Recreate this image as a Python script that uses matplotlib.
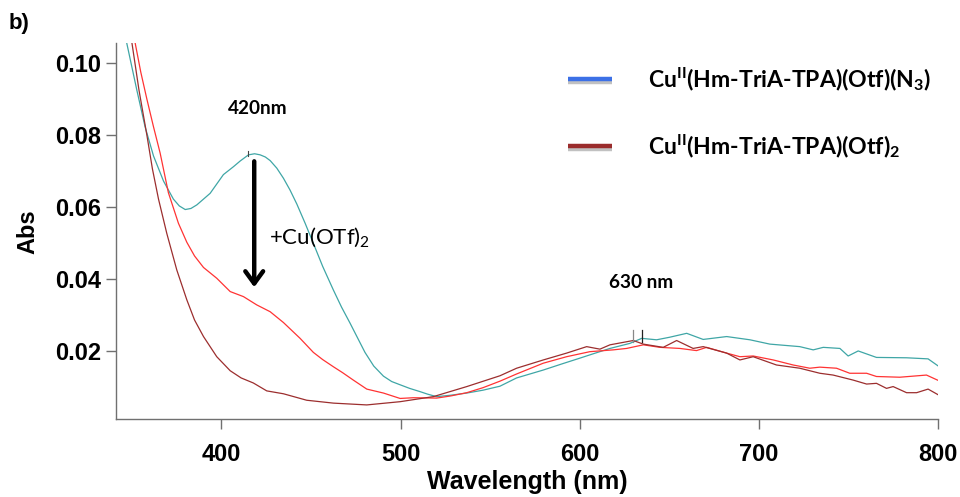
import matplotlib
matplotlib.use("Agg")
import matplotlib.pyplot as plt
from matplotlib.lines import Line2D
import matplotlib.patheffects as pe

plt.rcParams['font.family'] = ['Liberation Sans', 'DejaVu Sans']
plt.rcParams['mathtext.fontset'] = 'custom'
plt.rcParams['mathtext.rm'] = 'Lato'
plt.rcParams['mathtext.bf'] = 'Lato:bold'
plt.rcParams['mathtext.it'] = 'Lato:italic'

# Cu(II) azide complex (starting spectrum)
wl_azide = [344, 347.2, 352.8, 357.4, 362.1, 367.7, 373.2, 376.5, 379.8, 383, 386.3, 393.7,
            401.1, 406.7, 410.5, 415.1, 418.5, 421.6, 424.5, 427.2, 430.9, 434.6, 438.3,
            442.1, 446.7, 451.3, 456.5, 462.5, 467, 471.8, 476, 480.1, 485, 490.4, 495,
            499.7, 505, 510.8, 515, 520.1, 528, 536.9, 546, 555.4, 564.7, 579.6, 590, 600,
            608, 616.8, 627.9, 634.5, 642.8, 650, 659.6, 668.8, 681.9, 694.9, 706, 722.7,
            730.2, 735.8, 745.1, 749.7, 755.3, 765.5, 782.3, 794.3, 800]
abs_azide = [0.113, 0.1055, 0.0925, 0.0823, 0.0742, 0.0672, 0.0622, 0.0603, 0.0593, 0.0596,
             0.0606, 0.0638, 0.0690, 0.0712, 0.0728, 0.0745, 0.0748, 0.0745, 0.0739, 0.0729,
             0.0708, 0.0680, 0.0647, 0.0608, 0.0555, 0.0499, 0.0435, 0.0369, 0.0322, 0.0277,
             0.0236, 0.0196, 0.0158, 0.0130, 0.0115, 0.0106, 0.0096, 0.0087, 0.0080, 0.0073,
             0.0077, 0.0083, 0.0091, 0.0102, 0.0125, 0.0147, 0.0164, 0.0180, 0.0193, 0.0207,
             0.0221, 0.0235, 0.0231, 0.0238, 0.0249, 0.0232, 0.0240, 0.0231, 0.0219, 0.0212,
             0.0203, 0.0210, 0.0207, 0.0186, 0.0200, 0.0182, 0.0181, 0.0178, 0.0158]

# intermediate titration point
wl_mid = [349, 351.9, 355, 358.4, 362, 365.8, 370.4, 376, 380.7, 385, 390, 397.4, 404.9,
          412.3, 419.7, 427.2, 434.6, 443.9, 451.3, 456.5, 462.5, 467.5, 473.6, 481.1,
          490.4, 499.7, 507.1, 520.1, 528, 536.9, 546, 555.4, 564.7, 579.6, 592.6, 605.6,
          618.6, 626.1, 635.4, 644.7, 655.8, 665.1, 670.7, 681.9, 689.3, 696.7, 707.9, 719,
          728.3, 733.9, 743.2, 750.6, 760, 765.5, 778.5, 793.4, 800]
abs_mid = [0.112, 0.1055, 0.0975, 0.0900, 0.0825, 0.0750, 0.0640, 0.0555, 0.0502, 0.0464,
           0.0432, 0.0402, 0.0365, 0.0351, 0.0328, 0.0309, 0.0279, 0.0235, 0.0196, 0.0176,
           0.0156, 0.0140, 0.0119, 0.0094, 0.0083, 0.0068, 0.0070, 0.0069, 0.0075, 0.0084,
           0.0098, 0.0116, 0.0136, 0.0166, 0.0184, 0.0198, 0.0203, 0.0207, 0.0217, 0.0210,
           0.0207, 0.0201, 0.0210, 0.0194, 0.0184, 0.0186, 0.0175, 0.0161, 0.0152, 0.0155,
           0.0152, 0.0138, 0.0138, 0.0129, 0.0127, 0.0133, 0.0118]

# Cu(II) bis-triflate complex (end of titration)
wl_otf = [348, 350.1, 354, 358.4, 361.5, 364.9, 369.5, 375.1, 380.7, 385, 390, 397.4, 404.9,
          411, 417.8, 425.3, 434.6, 447.6, 462.5, 481.1, 499.7, 518.2, 536.9, 555.4, 564.7,
          579.6, 592.6, 603.8, 611.2, 616.8, 629.8, 635.4, 646.5, 654, 663.2, 668.8, 681.9,
          689.3, 696.7, 709.7, 722.7, 733.9, 741.3, 752.5, 760, 765.5, 771.1, 774.8, 782.3,
          787.9, 794.3, 800]
abs_otf = [0.112, 0.1055, 0.0925, 0.0800, 0.0706, 0.0622, 0.0527, 0.0425, 0.0342, 0.0286,
           0.0240, 0.0184, 0.0145, 0.0125, 0.0111, 0.0089, 0.0081, 0.0063, 0.0055, 0.0050,
           0.0059, 0.0073, 0.0101, 0.0131, 0.0152, 0.0175, 0.0194, 0.0212, 0.0205, 0.0217,
           0.0229, 0.0219, 0.0210, 0.0229, 0.0207, 0.0212, 0.0194, 0.0175, 0.0184, 0.0161,
           0.0152, 0.0138, 0.0133, 0.0119, 0.0108, 0.0110, 0.0096, 0.0101, 0.0084, 0.0084,
           0.0094, 0.0078]

x_ticks = [400, 500, 600, 700, 800]
y_ticks = [0.02, 0.04, 0.06, 0.08, 0.10]
y_ticklabels = ['0.02', '0.04', '0.06', '0.08', '0.10']

legend_labels = [r'Cu$^{\mathbf{II}}$(Hm-TriA-TPA)(Otf)(N$_{\mathbf{3}}$)',
                 r'Cu$^{\mathbf{II}}$(Hm-TriA-TPA)(Otf)$_{\mathbf{2}}$']
legend_colors = ['#3c70e6', '#9a2c2c']

# cursor positions read on the band maxima
cursor_420 = [415.1]
cursor_630 = [629.8, 634.8]

fig = plt.figure(figsize=(9.6, 4.97), dpi=100)
ax = fig.add_axes([0.1205, 0.1563, 0.8569, 0.7566])

ax.plot(wl_azide, abs_azide, color='#3fa6a6', lw=0.9)
ax.plot(wl_mid, abs_mid, color='#ff3333', lw=0.9)
ax.plot(wl_otf, abs_otf, color='#9c2e2e', lw=0.9)

ax.set_xlim(341, 800)
ax.set_ylim(0.001, 0.1055)

for s in ['top', 'right']:
    ax.spines[s].set_visible(False)
for s in ['left', 'bottom']:
    ax.spines[s].set_color('#707070')
    ax.spines[s].set_linewidth(1.0)

ax.set_xticks(x_ticks)
ax.set_xticklabels([str(v) for v in x_ticks])
ax.set_yticks(y_ticks)
ax.set_yticklabels(y_ticklabels)
ax.tick_params(axis='both', direction='out', length=7, width=1.0, color='#707070',
               labelsize=17)
ax.tick_params(axis='y', pad=3.5)
ax.tick_params(axis='x', pad=10)
for lab in ax.get_xticklabels() + ax.get_yticklabels():
    lab.set_fontweight('bold')

ax.set_xlabel('Wavelength (nm)', fontsize=18, fontweight='bold', labelpad=3)
ax.set_ylabel('Abs', fontsize=17, fontweight='bold', labelpad=11)

# cursor marks
for w in cursor_420:
    ax.plot([w, w], [0.0743, 0.0756], color='#444444', lw=0.8)
ax.plot([cursor_630[0]] * 2, [0.0224, 0.0258], color='#888888', lw=0.9)
ax.plot([cursor_630[1]] * 2, [0.0224, 0.0258], color='#222222', lw=0.9)

# titration arrow
ax.annotate('', xy=(418.3, 0.0377), xytext=(418.3, 0.0727),
            arrowprops=dict(arrowstyle='->,head_length=0.55,head_width=0.4',
                            lw=3.2, color='black', mutation_scale=16,
                            shrinkA=0, shrinkB=0))
ax.text(426.5, 0.0515, r'+Cu(OTf)$_{\mathrm{2}}$', fontsize=16, family=['Lato'],
        va='center', ha='left')

ax.text(420, 0.0875, '420nm', fontsize=13.7, fontweight='bold', family=['Lato'],
        ha='center', va='center')
ax.text(634, 0.0389, '630 nm', fontsize=13.7, fontweight='bold', family=['Lato'],
        ha='center', va='center')

# legend
leg_y = [0.905, 0.727]
for y, c, lab in zip(leg_y, legend_colors, legend_labels):
    ax.add_line(Line2D([0.550, 0.603], [y, y], transform=ax.transAxes, color=c, lw=3.2,
                       solid_capstyle='butt', clip_on=False,
                       path_effects=[pe.SimpleLineShadow(offset=(0, -2.2),
                                                         shadow_color='#999999',
                                                         alpha=0.6),
                                     pe.Normal()]))
    ax.text(0.647, y, lab, transform=ax.transAxes, fontsize=16.6, fontweight='bold',
            family=['Lato'], ha='left', va='center')

fig.text(0.009, 0.952, 'b)', fontsize=16, fontweight='bold', ha='left', va='center')

fig.savefig('out.png', dpi=100)
